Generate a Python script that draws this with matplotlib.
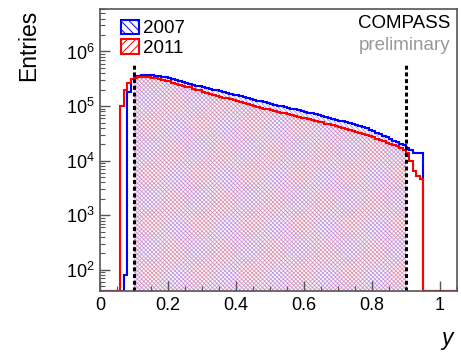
import numpy as np
import matplotlib
matplotlib.use("Agg")
import matplotlib.pyplot as plt
from matplotlib.ticker import MultipleLocator, LogLocator, FuncFormatter
from matplotlib.patches import Patch

plt.rcParams['font.family'] = ['Liberation Sans', 'DejaVu Sans']
plt.rcParams['hatch.linewidth'] = 0.7

# y histograms, bin width 0.01, first non-empty bin given by *_start
bin_width = 0.01
y_max = 1.05

start_2007 = 0.07
entries_2007 = [
    80, 178000, 316000, 351000, 363000, 372000, 372000, 372000, 367000, 363000,
    355000, 347000, 335000, 324000, 313000, 299000, 285000, 275000, 266000, 257000,
    245000, 237000, 229000, 221000, 211000, 204000, 197000, 193000, 186000, 180000,
    174000, 168000, 162000, 157000, 151000, 146000, 141000, 135000, 130000, 126000,
    122000, 117000, 114000, 110000, 106000, 102000, 98900, 95500, 92300, 89100,
    87100, 84100, 81300, 78500, 75900, 73300, 70800, 68400, 66100, 63100,
    61000, 58900, 56200, 54300, 52500, 50700, 49000, 46800, 44700, 42700,
    40700, 38900, 36700, 34700, 32700, 30900, 28800, 26900, 25100, 23400,
    21900, 20400, 19100, 17400, 15800, 13800, 13800, 13800,
]

start_2011 = 0.06
entries_2011 = [
    100000, 200000, 269000, 309000, 327000, 339000, 343000, 343000, 339000, 331000,
    324000, 313000, 302000, 292000, 282000, 269000, 257000, 245000, 237000, 226000,
    219000, 209000, 200000, 193000, 184000, 176000, 168000, 160000, 155000, 148000,
    143000, 138000, 132000, 127000, 123000, 117000, 114000, 110000, 105000, 101000,
    97700, 93300, 90200, 87100, 84100, 81300, 78500, 75900, 73300, 70800,
    68400, 66100, 63800, 61700, 59600, 57500, 55600, 53700, 51900, 50100,
    47900, 46200, 44700, 42700, 41200, 39800, 38000, 36700, 35100, 33500,
    32000, 30500, 29200, 27900, 26600, 25100, 24000, 22600, 21400, 20400,
    19300, 18200, 17200, 15800, 13800, 10000, 6600, 5200, 4600,
]

y_cut = [0.1, 0.9]
cut_line_top = 5.6e5

y_lo, y_hi = 41, 6.0e6

nbins = int(round(y_max / bin_width))
edges = np.round(np.arange(nbins + 1) * bin_width, 4)


def full_hist(start, vals):
    h = np.full(nbins, float(y_lo))
    i0 = int(round(start / bin_width))
    h[i0:i0 + len(vals)] = vals
    return h


h07 = full_hist(start_2007, entries_2007)
h11 = full_hist(start_2011, entries_2011)

fig = plt.figure(figsize=(4.61, 3.54), dpi=100)
ax = fig.add_axes([100 / 461, 1 - 291 / 354, 357 / 461, 282 / 354])

# hatched area inside the cut window
i_lo = int(round(y_cut[0] / bin_width))
i_hi = int(round(y_cut[1] / bin_width))
ax.stairs(h07[i_lo:i_hi], edges[i_lo:i_hi + 1], baseline=y_lo, fill=True,
          facecolor='none', edgecolor=(0.3, 0.3, 1, 0.5), hatch='\\' * 8, linewidth=0)
ax.stairs(h11[i_lo:i_hi], edges[i_lo:i_hi + 1], baseline=y_lo, fill=True,
          facecolor='none', edgecolor=(1, 0.3, 0.3, 0.5), hatch='/' * 8, linewidth=0)

ax.stairs(h07, edges, baseline=None, color='#0000ff', linewidth=1.5)
ax.stairs(h11, edges, baseline=None, color='#ff0000', linewidth=1.5)

ax.vlines(y_cut, y_lo, cut_line_top, colors='black', linewidth=2.2,
          linestyles=(0, (1.3, 0.9)))

ax.set_yscale('log')
ax.set_xlim(0, y_max)
ax.set_ylim(y_lo, y_hi)

ax.xaxis.set_major_locator(MultipleLocator(0.2))
ax.xaxis.set_minor_locator(MultipleLocator(0.05))
ax.xaxis.set_major_formatter(FuncFormatter(lambda v, p: '%g' % round(v, 3)))
ax.yaxis.set_major_locator(LogLocator(base=10, numticks=10))
ax.yaxis.set_minor_locator(LogLocator(base=10, subs=np.arange(2, 10), numticks=20))

for s in ax.spines.values():
    s.set_color('#555555')
    s.set_linewidth(1.2)
ax.tick_params(which='both', direction='in', colors='#555555', labelcolor='black',
               labelsize=13, top=False, right=False)
ax.tick_params(which='major', length=7.2, width=1.0, pad=4)
ax.tick_params(which='minor', length=3.6, width=0.8)

fig.text(29 / 461, 1 - 10 / 354, 'Entries', rotation=90, ha='center', va='top',
         fontsize=16.5)
fig.text(447 / 461, 1 - 338 / 354, 'y', style='italic', ha='center', va='center',
         fontsize=16.5)

ax.text(450 / 461, 1 - 24 / 354, 'COMPASS', transform=fig.transFigure,
        ha='right', va='center', fontsize=13.5)
ax.text(450 / 461, 1 - 45 / 354, 'preliminary', transform=fig.transFigure,
        ha='right', va='center', fontsize=13.5, color='#999999')

handles = [
    Patch(facecolor='white', edgecolor='#0000ff', hatch='\\' * 4, linewidth=1.5, label='2007'),
    Patch(facecolor='white', edgecolor='#ff0000', hatch='/' * 4, linewidth=1.5, label='2011'),
]
ax.legend(handles=handles, loc='upper left', bbox_to_anchor=(20.7 / 357, 0.962),
          frameon=False, fontsize=13.5, borderpad=0, borderaxespad=0,
          handlelength=1.0, handleheight=0.8, handletextpad=0.2, labelspacing=0.1)

fig.savefig('out.png', dpi=100)
